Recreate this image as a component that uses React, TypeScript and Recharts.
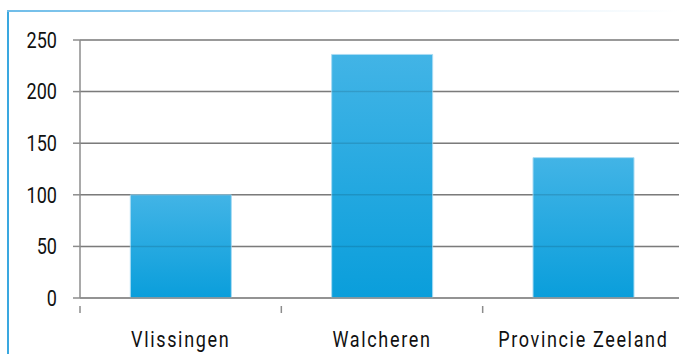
import { Bar, BarChart, CartesianGrid, ReferenceLine, XAxis, YAxis } from "recharts";

const regions = ["Vlissingen", "Walcheren", "Provincie Zeeland"];
const values = [100, 236, 136];
const yTicks = [0, 50, 100, 150, 200, 250];

const data = regions.map((name, i) => ({ name, value: values[i] }));

const WIDTH = 700;
const HEIGHT = 354;
const MARGIN = { top: 40, right: 16, bottom: 26, left: 0 };
const Y_AXIS_WIDTH = 80;
const BAND = (WIDTH - MARGIN.left - MARGIN.right - Y_AXIS_WIDTH) / regions.length;

const AXIS_GRAY = "#8c8c8c";
const FONT = "Roboto, sans-serif";
// Roboto squeezed horizontally to get a condensed face
const CONDENSE = 0.82;

// category label centred under the bar, with tick marks on the band edges
function CategoryTick(props: any) {
  const { x, y, payload, index } = props;
  const left = x - BAND / 2;
  const right = x + BAND / 2;
  return (
    <g>
      <line x1={left} x2={left} y1={y} y2={y + 7} stroke={AXIS_GRAY} strokeWidth={1.5} />
      {index === regions.length - 1 && (
        <line x1={right} x2={right} y1={y} y2={y + 7} stroke={AXIS_GRAY} strokeWidth={1.5} />
      )}
      <g transform={`translate(${x},${y + 25}) scale(${CONDENSE},1)`}>
        <text
          x={0}
          y={0}
          dy="0.71em"
          textAnchor="middle"
          fill="#111"
          fontSize={22}
          fontFamily={FONT}
          letterSpacing={2}
        >
          {payload.value}
        </text>
      </g>
    </g>
  );
}

function ValueTick(props: any) {
  const { x, y, payload } = props;
  return (
    <g transform={`translate(${x},${y}) scale(${CONDENSE},1)`}>
      <text x={0} y={0} dy="0.355em" textAnchor="end" fill="#111" fontSize={22} fontFamily={FONT}>
        {payload.value}
      </text>
    </g>
  );
}

export default function App() {
  return (
    <div
      style={{
        position: "absolute",
        left: 0,
        top: 0,
        width: 679,
        height: 354,
        overflow: "hidden",
        background: "#fff",
      }}
    >
      {/* frame: blue left edge, fading top edge */}
      <div style={{ position: "absolute", left: 7, top: 10, width: 2, height: 344, background: "#3aa8e0" }} />
      <div
        style={{
          position: "absolute",
          left: 7,
          top: 10,
          width: 672,
          height: 1.5,
          background: "linear-gradient(to right, #6fbde9, #d8ecf9 60%, #ffffff)",
        }}
      />
      <BarChart width={WIDTH} height={HEIGHT} data={data} margin={MARGIN} barCategoryGap="25%">
        <defs>
          <linearGradient id="barFill" x1="0" y1="0" x2="0" y2="1">
            <stop offset="0%" stopColor="#42b4e6" />
            <stop offset="100%" stopColor="#0a9edb" />
          </linearGradient>
        </defs>
        <CartesianGrid vertical={false} stroke={AXIS_GRAY} strokeWidth={1.5} />
        <XAxis
          dataKey="name"
          height={30}
          tickLine={false}
          axisLine={{ stroke: AXIS_GRAY, strokeWidth: 1.5 }}
          tick={<CategoryTick />}
          interval={0}
        />
        <YAxis
          width={Y_AXIS_WIDTH}
          domain={[0, 250]}
          ticks={yTicks}
          tickSize={7}
          tickMargin={16}
          tickLine={{ stroke: AXIS_GRAY, strokeWidth: 1.5 }}
          axisLine={{ stroke: AXIS_GRAY, strokeWidth: 1.5 }}
          tick={<ValueTick />}
        />
        <Bar
          dataKey="value"
          fill="url(#barFill)"
          stroke="#a8dbf3"
          strokeWidth={1}
          isAnimationActive={false}
        />
        {/* faint gridline overlay so the lines stay visible across the bars */}
        {yTicks.slice(1).map((t) => (
          <ReferenceLine key={t} y={t} stroke="#000" strokeOpacity={0.12} strokeWidth={1.5} />
        ))}
      </BarChart>
    </div>
  );
}
